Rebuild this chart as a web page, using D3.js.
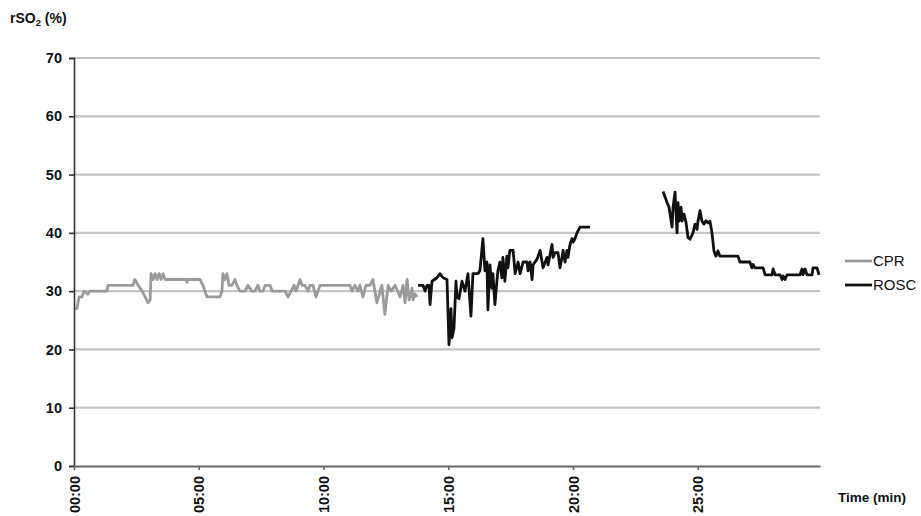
<!DOCTYPE html>
<html><head><meta charset="utf-8">
<script src="https://cdn.jsdelivr.net/npm/d3@7/dist/d3.min.js"></script>
<style>
body{margin:0;background:#fff;}
svg{display:block;font-family:"Liberation Sans",Arial,sans-serif;}
</style></head>
<body>
<svg id="c" width="921" height="516"></svg>
<script>
// ---- data (time in minutes, rSO2 in %) ----
const cprTime = [0.04,0.12,0.20,0.32,0.40,0.56,0.64,1.32,1.36,2.36,2.44,2.57,2.73,2.85,2.97,3.05,3.09,3.17,3.25,3.33,3.41,3.49,3.57,3.65,4.49,4.53,4.57,5.05,5.17,5.25,5.33,5.85,5.93,5.97,6.05,6.13,6.21,6.33,6.45,6.53,6.65,6.85,6.97,7.13,7.25,7.37,7.45,7.58,7.66,7.86,7.94,8.46,8.58,8.70,8.82,8.90,8.98,9.06,9.14,9.26,9.38,9.46,9.58,9.70,9.78,9.86,11.06,11.14,11.26,11.38,11.46,11.58,11.70,11.86,11.98,12.14,12.34,12.46,12.59,12.71,12.87,13.07,13.19,13.27,13.35,13.43,13.55,13.59,13.67,13.75];
const cprValue = [27,27,29,29,30,29.5,30,30,31,31,32,31,30,29,28,28.5,33,32,33,32,33,32,33,32,32,31.5,32,32,31,30,29,29,30,33,32,33,31,31,32,31,30,30,31,30,30,31,30,30,31,31,30,30,29,30,31,30,31,32,31,31,30,31,31,29,30,31,31,30,31,30,31,29,31,31,32,28,31,26,31,30,31,29,31,28,32,28.5,30.5,28.5,29.5,29];

const roscTime = [13.79,13.99,14.07,14.15,14.23,14.27,14.35,14.55,14.67,14.79,14.95,15.03,15.11,15.15,15.23,15.31,15.35,15.43,15.55,15.67,15.79,15.91,15.99,16.19,16.27,16.39,16.47,16.55,16.59,16.67,16.75,16.79,16.87,16.95,16.99,17.07,17.15,17.19,17.27,17.35,17.39,17.47,17.60,17.68,17.80,17.88,18.00,18.16,18.20,18.28,18.36,18.40,18.56,18.68,18.76,18.80,18.96,19.00,19.16,19.20,19.28,19.40,19.48,19.56,19.60,19.68,19.76,19.80,19.88,19.96,20.00,20.08,20.16,20.28,20.68,
  22.00,
  23.61,23.77,23.85,23.97,24.01,24.09,24.17,24.21,24.25,24.33,24.37,24.45,24.53,24.61,24.69,24.81,24.89,24.97,25.01,25.09,25.17,25.25,25.33,25.41,25.49,25.57,25.65,25.73,25.81,25.89,26.61,26.69,27.09,27.17,27.21,27.29,27.62,27.70,27.98,28.02,28.10,28.30,28.38,28.42,28.50,28.58,29.10,29.18,29.22,29.30,29.38,29.58,29.62,29.78,29.86];
const roscValue = [31,31,30,31,31,27.7,31.7,32.3,33,32.3,32,20.8,27,22,23.6,31.7,29,28.7,31.7,30,33,25.7,33,33,33.5,39,33.5,35,26.8,34.5,30.5,33,27.7,31.7,33.5,35,32.3,35.8,31.7,36,34,37,37,33,35,33,35,35,33.5,35,32,34.5,35.5,37,35,34,35.8,34.5,38,35.8,36.6,36.6,34,35.8,37,35,37,35.8,38,39,38.4,39,40,41,41,
  null,
  47.1,45.2,44.4,41,44.4,47,40,45.2,42,44.4,42,43.2,41.8,39.2,38.9,40,41.5,40.6,42,43.8,42,41.5,42.1,41.7,42,40,36.9,36,36.9,36,36,35,35,34,34.6,34,34,32.8,32.8,33.8,32.8,32.8,32,32.6,32,32.8,32.8,33.8,32.8,33.8,32.8,32.8,34,34,32.8];

const yTicks = [0,10,20,30,40,50,60,70];
const xTicks = [0,5,10,15,20,25];
const xTickLabels = ["00:00","05:00","10:00","15:00","20:00","25:00"];
const seriesNames = ["CPR","ROSC"];
const seriesColors = ["#9a9a9a","#111111"];

// ---- chart ----
const svg = d3.select("#c");
const m = {left:74, right:820, top:58, bottom:466};
const x = d3.scaleLinear().domain([0,29.9]).range([m.left,m.right]);
const y = d3.scaleLinear().domain([0,70]).range([m.bottom,m.top]);

// gridlines
svg.append("g").selectAll("line").data(yTicks.filter(d=>d>0)).join("line")
  .attr("x1",m.left).attr("x2",m.right)
  .attr("y1",d=>y(d)).attr("y2",d=>y(d))
  .attr("stroke","#c4c4c4").attr("stroke-width",2.2);

// y axis
const yAx = svg.append("g").attr("transform",`translate(${m.left},0)`)
  .call(d3.axisLeft(y).tickValues(yTicks).tickSize(5).tickPadding(7));
yAx.select(".domain").attr("stroke","#333").attr("stroke-width",1.6);
yAx.selectAll(".tick line").attr("stroke","#333").attr("stroke-width",1.6);
yAx.selectAll("text").attr("font-size",14.5).attr("font-weight","bold").attr("fill","#111")
  .attr("font-family","Liberation Sans, Arial, sans-serif");

// x axis
const xAx = svg.append("g").attr("transform",`translate(0,${m.bottom})`)
  .call(d3.axisBottom(x).tickValues(xTicks).tickFormat((d,i)=>xTickLabels[i]).tickSize(4).tickSizeOuter(0));
xAx.select(".domain").attr("stroke","#666").attr("stroke-width",2);
xAx.selectAll(".tick line").attr("stroke","#666").attr("stroke-width",1.6);
xAx.selectAll("text").attr("font-size",14.5).attr("font-weight","bold").attr("fill","#111")
  .attr("font-family","Liberation Sans, Arial, sans-serif")
  .attr("transform","rotate(-90)").attr("text-anchor","end")
  .attr("x",-10).attr("y",0).attr("dy","0.35em");

// lines
const line = d3.line().defined(d=>d[1]!==null).x(d=>x(d[0])).y(d=>y(d[1]));
const cprData = cprTime.map((t,i)=>[t,cprValue[i]]);
const roscData = roscTime.map((t,i)=>[t,roscValue[i]]);
svg.append("path").datum(cprData).attr("d",line).attr("fill","none")
  .attr("stroke",seriesColors[0]).attr("stroke-width",2.8).attr("stroke-linejoin","round");
svg.append("path").datum(roscData).attr("d",line).attr("fill","none")
  .attr("stroke",seriesColors[1]).attr("stroke-width",2.8).attr("stroke-linejoin","round");

// titles
const yt = svg.append("text").attr("x",10).attr("y",23).attr("font-size",14).attr("font-weight","bold").attr("fill","#111");
yt.append("tspan").text("rSO");
yt.append("tspan").text("2").attr("font-size",9.5).attr("dy",3);
yt.append("tspan").text("\u00a0(%)").attr("dy",-3);
svg.append("text").attr("x",838).attr("y",502).attr("font-size",13.5).attr("font-weight","bold").attr("fill","#111")
  .text("Time (min)");

// legend
const lg = svg.append("g").selectAll("g").data(seriesNames).join("g")
  .attr("transform",(d,i)=>`translate(845,${261+i*24})`);
lg.append("line").attr("x1",0).attr("x2",27).attr("stroke",(d,i)=>seriesColors[i]).attr("stroke-width",2.8);
lg.append("text").attr("x",28).attr("dy","0.35em").attr("font-size",15).attr("fill","#111").text(d=>d);
</script>
</body></html>
